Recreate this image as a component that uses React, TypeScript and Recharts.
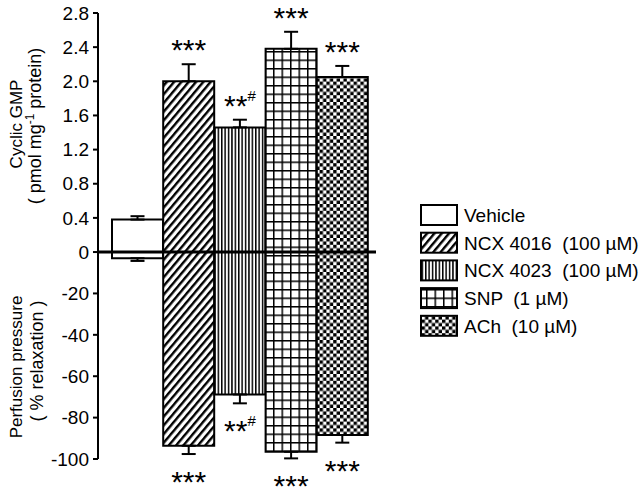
import React from 'react';
import { BarChart, Bar, XAxis, YAxis, Cell, ErrorBar, LabelList, ReferenceLine } from 'recharts';

// ---- data ----
const categories = ['Vehicle', 'NCX 4016', 'NCX 4023', 'SNP', 'ACh'];
const legendLabels = ['Vehicle', 'NCX 4016  (100 µM)', 'NCX 4023  (100 µM)', 'SNP  (1 µM)', 'ACh  (10 µM)'];
const cgmp = [0.38, 2.0, 1.46, 2.38, 2.05];
const cgmpSem = [0.04, 0.2, 0.09, 0.2, 0.13];
const relaxation = [-3.0, -93.6, -68.8, -96.5, -88.4];
const relaxationSem = [1.3, 4.0, 4.3, 3.2, 3.7];
const cgmpSig = ['', '***', '**#', '***', '***'];
const relaxSig = ['', '***', '**#', '***', '***'];
const cgmpTicks = [0, 0.4, 0.8, 1.2, 1.6, 2.0, 2.4, 2.8];
const relaxTicks = [-100, -80, -60, -40, -20, 0];

// the two halves share one axis: cGMP units are scaled to the % axis
const K = 41.25;
const patternIds = ['pVehicle', 'pDiag', 'pVert', 'pGrid', 'pCheck'];
const FONT = 'Liberation Sans, Arial, Helvetica, sans-serif';

const data = categories.map((name, i) => ({
  name,
  up: cgmp[i] * K,
  upErr: [0, cgmpSem[i] * K],
  down: relaxation[i],
  downErr: [relaxationSem[i], 0],
  upSig: cgmpSig[i],
  downSig: relaxSig[i],
}));

const axisTicks = [...relaxTicks, ...cgmpTicks.slice(1).map((v) => v * K)];
const fmtTick = (v: number) => (v > 0 ? (v / K).toFixed(1) : String(v));

const makeSigLabel = (values: number[], errs: number[], dir: number) => (props: any) => {
  const { index, value } = props;
  if (!value) return null;
  const vb = props.viewBox && props.viewBox.width !== undefined ? props.viewBox : props;
  const x = Number(vb.x);
  const y = Number(vb.y);
  const w = Number(vb.width);
  const h = Number(vb.height);
  const top = Math.min(y, y + h);
  const bottom = Math.max(y, y + h);
  const ppu = Math.abs(h) / Math.abs(values[index]);
  const cx = x + w / 2;
  const base = dir > 0 ? top - errs[index] * ppu - 4 : bottom + errs[index] * ppu + 38;
  const str = String(value);
  const stars = str.replace('#', '');
  const hash = str.includes('#');
  return (
    <text x={cx} y={base} textAnchor="middle" fontFamily={FONT} fontSize={30} fill="#000">
      {stars}
      {hash ? (
        <tspan fontSize={15} dy={-15}>
          #
        </tspan>
      ) : null}
    </text>
  );
};

export default function App() {
  return (
    <div style={{ position: 'absolute', left: 0, top: 0, width: 640, height: 494, background: '#fff' }}>
      <svg width={0} height={0} style={{ position: 'absolute' }}>
        <defs>
          <pattern id="pVehicle" patternUnits="userSpaceOnUse" width={4} height={4}>
            <rect width={4} height={4} fill="#fff" />
          </pattern>
          <pattern id="pDiag" patternUnits="userSpaceOnUse" width={5.6} height={10} patternTransform="rotate(40)">
            <rect width={5.6} height={10} fill="#fff" />
            <rect x={0} y={0} width={2.4} height={10} fill="#000" />
          </pattern>
          <pattern id="pVert" patternUnits="userSpaceOnUse" width={3.4} height={10}>
            <rect width={3.4} height={10} fill="#fff" />
            <rect x={0} y={0} width={1.5} height={10} fill="#000" />
          </pattern>
          <pattern id="pGrid" patternUnits="userSpaceOnUse" width={8.5} height={8.5} x={1} y={0}>
            <rect width={8.5} height={8.5} fill="#fff" />
            <rect x={0} y={0} width={1.5} height={8.5} fill="#000" />
            <rect x={0} y={0} width={8.5} height={1.5} fill="#000" />
          </pattern>
          <pattern id="pCheck" patternUnits="userSpaceOnUse" width={6.8} height={6.8}>
            <rect width={6.8} height={6.8} fill="#fff" />
            <rect x={0} y={0} width={3.4} height={3.4} fill="#000" />
            <rect x={3.4} y={3.4} width={3.4} height={3.4} fill="#000" />
          </pattern>
        </defs>
      </svg>
      <BarChart
        width={640}
        height={494}
        data={data}
        stackOffset="sign"
        barCategoryGap={0}
        barGap={0}
        margin={{ top: 13, right: 264, bottom: 35, left: 0 }}
      >
        <XAxis dataKey="name" hide padding={{ left: 14, right: 8 }} />
        <YAxis
          type="number"
          domain={[-100, 2.8 * K]}
          allowDataOverflow
          ticks={axisTicks}
          interval={0}
          tickFormatter={fmtTick}
          width={98}
          axisLine={{ stroke: '#000', strokeWidth: 2 }}
          tickLine={{ stroke: '#000', strokeWidth: 2 }}
          tickSize={5}
          tickMargin={4}
          tick={{ fill: '#000', fontSize: 19, fontFamily: FONT }}
        />
        <Bar dataKey="up" stackId="s" stroke="#000" strokeWidth={2} isAnimationActive={false}>
          {data.map((d, i) => (
            <Cell key={`u${i}`} fill={`url(#${patternIds[i]})`} />
          ))}
          <ErrorBar dataKey="upErr" width={7} stroke="#000" strokeWidth={2} direction="y" />
          <LabelList dataKey="upSig" content={makeSigLabel(cgmp, cgmpSem, 1)} />
        </Bar>
        <Bar dataKey="down" stackId="s" stroke="#000" strokeWidth={2} isAnimationActive={false}>
          {data.map((d, i) => (
            <Cell key={`d${i}`} fill={`url(#${patternIds[i]})`} />
          ))}
          <ErrorBar dataKey="downErr" width={7} stroke="#000" strokeWidth={2} direction="y" />
          <LabelList dataKey="downSig" content={makeSigLabel(relaxation, relaxationSem, -1)} />
        </Bar>
        <ReferenceLine y={0} stroke="#000" strokeWidth={3} ifOverflow="extendDomain" />
      </BarChart>
      <svg
        width={640}
        height={494}
        style={{ position: 'absolute', left: 0, top: 0, pointerEvents: 'none' }}
        fontFamily={FONT}
      >
        <text transform="rotate(-90)" x={-124} y={22} textAnchor="middle" fontSize={17} fill="#000">
          Cyclic GMP
        </text>
        <text transform="rotate(-90)" x={-126} y={41} textAnchor="middle" fontSize={18} fill="#000" style={{ whiteSpace: 'pre' }}>
          {'( pmol mg'}
          <tspan fontSize={12} dy={-7}>-1</tspan>
          <tspan dy={7}>{' protein)'}</tspan>
        </text>
        <text transform="rotate(-90)" x={-367} y={21.5} textAnchor="middle" fontSize={17} fill="#000">
          Perfusion pressure
        </text>
        <text transform="rotate(-90)" x={-361} y={43} textAnchor="middle" fontSize={18} fill="#000" style={{ whiteSpace: 'pre' }}>
          {'( % relaxation )'}
        </text>
        {legendLabels.map((lab, i) => (
          <g key={lab}>
            <rect
              x={421}
              y={205 + i * 27.7}
              width={36}
              height={20}
              fill={`url(#${patternIds[i]})`}
              stroke="#000"
              strokeWidth={2}
            />
            <text x={464} y={222 + i * 27.7} fontSize={19} fill="#000" style={{ whiteSpace: 'pre' }}>
              {lab}
            </text>
          </g>
        ))}
      </svg>
    </div>
  );
}
